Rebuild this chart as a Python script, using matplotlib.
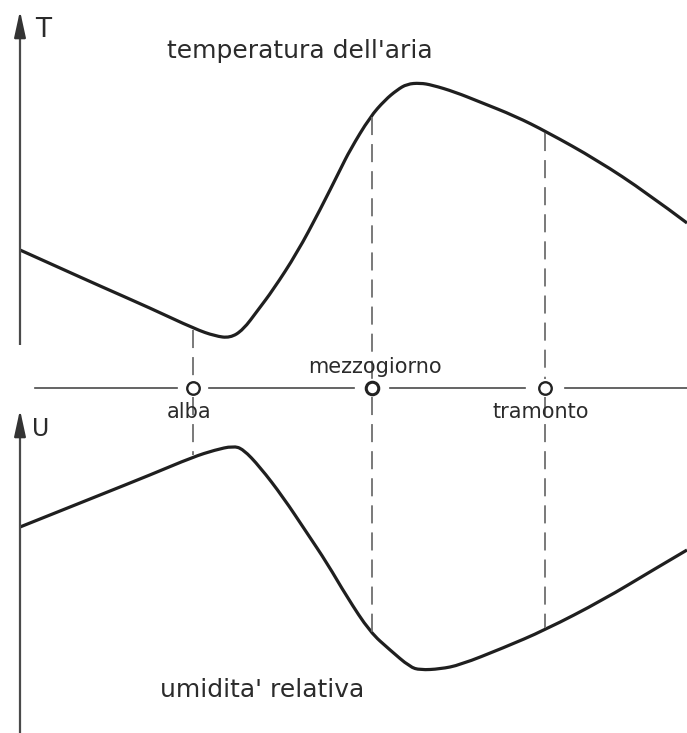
import numpy as np
import matplotlib
matplotlib.use("Agg")
import matplotlib.pyplot as plt
from matplotlib.path import Path
from matplotlib.patches import PathPatch

# curves (x = time across the day, y = drawing units, down is lower value)
temp_x = [20, 60, 100, 150, 195, 215, 230, 243, 258, 273, 297, 320, 340, 350, 370,
          385, 397, 407, 420, 432, 455, 480, 515, 547, 597, 647, 687]
temp_y = [250, 268, 286, 308, 329, 336, 338, 330, 310, 290, 253, 210, 170, 150, 117,
          100, 90, 84, 83, 85, 92, 102, 116, 132, 160, 193, 223]

hum_x = [20, 60, 100, 150, 193, 215, 233, 243, 260, 283, 307, 327, 347, 370, 390,
         410, 420, 440, 460, 503, 545, 603, 653, 687]
hum_y = [527, 511, 495, 475, 457, 450, 446, 449, 467, 497, 533, 563, 597, 632, 650,
         667, 670, 669, 665, 648, 630, 600, 570, 550]

event_x = [193, 372, 545]
event_labels = ["alba", "mezzogiorno", "tramonto"]
label_above = [False, True, False]

title_top = "temperatura dell'aria"
title_bottom = "umidita' relativa"

CURVE = "#1f1f1f"
TEXT = "#2b2b2b"
DASH = "#6e6e6e"
AXIS = "#4a4a4a"

AXIS_Y = 388
AXIS_X = 20


def smooth_path(xs, ys):
    # quadratic bezier through midpoints: each read point acts as a control point
    pts = np.column_stack([xs, ys]).astype(float)
    verts = [pts[0]]
    codes = [Path.MOVETO]
    for i in range(1, len(pts) - 1):
        mid = (pts[i] + pts[i + 1]) / 2
        if i == len(pts) - 2:
            mid = pts[i + 1]
        verts += [pts[i], mid]
        codes += [Path.CURVE3, Path.CURVE3]
    return Path(verts, codes)


def draw_diagram():
    fig = plt.figure(figsize=(6.87, 7.33), dpi=100)
    ax = fig.add_axes([0, 0, 1, 1])
    ax.set_xlim(0, 687)
    ax.set_ylim(733, 0)
    ax.axis("off")

    # vertical axes with arrows
    ax.plot([AXIS_X, AXIS_X], [345, 30], color=AXIS, lw=1.6, solid_capstyle="butt")
    ax.annotate("", xy=(AXIS_X, 8), xytext=(AXIS_X, 40),
                arrowprops=dict(arrowstyle="-|>,head_length=1.6,head_width=0.35",
                                color="#333333", lw=1.6))
    ax.plot([AXIS_X, AXIS_X], [733, 430], color=AXIS, lw=1.6, solid_capstyle="butt")
    ax.annotate("", xy=(AXIS_X, 407), xytext=(AXIS_X, 440),
                arrowprops=dict(arrowstyle="-|>,head_length=1.6,head_width=0.35",
                                color="#333333", lw=1.6))
    ax.text(35, 37, "T", fontsize=19, color=TEXT, ha="left", va="baseline")
    ax.text(32, 436, "U", fontsize=17, color=TEXT, ha="left", va="baseline")

    # time axis broken at the markers
    gaps = [16, 18, 20]
    left = 35
    for x, g in zip(event_x, gaps):
        ax.plot([left, x - g], [AXIS_Y, AXIS_Y], color=AXIS, lw=1.2)
        left = x + g
    ax.plot([left, 687], [AXIS_Y, AXIS_Y], color=AXIS, lw=1.2)

    # dashed guides from curves to the markers
    t_at = np.interp(event_x, temp_x, temp_y)
    h_at = np.interp(event_x, hum_x, hum_y)
    for x, yt, yh in zip(event_x, t_at, h_at):
        ax.plot([x, x], [yt + 2, AXIS_Y - 9], color=DASH, lw=1.3,
                linestyle=(0, (10, 5)))
        ax.plot([x, x], [AXIS_Y + 9, yh - 2], color=DASH, lw=1.3,
                linestyle=(0, (10, 5)))

    # curves
    for xs, ys in [(temp_x, temp_y), (hum_x, hum_y)]:
        ax.add_patch(PathPatch(smooth_path(xs, ys), facecolor="none",
                               edgecolor=CURVE, lw=2.3, joinstyle="round"))

    # markers and labels
    for x, lab, above in zip(event_x, event_labels, label_above):
        mew = 2.2 if above else 1.7
        ax.plot([x], [AXIS_Y], marker="o", ms=9, mfc="white", mec="#222222",
                mew=mew, zorder=5)
        if above:
            ax.text(x + 3, AXIS_Y - 15, lab, fontsize=15, color=TEXT,
                    ha="center", va="baseline")
        else:
            ax.text(x - 4, AXIS_Y + 30, lab, fontsize=15, color=TEXT,
                    ha="center", va="baseline")

    ax.text(300, 58, title_top, fontsize=18, color=TEXT, ha="center", va="baseline")
    ax.text(262, 697, title_bottom, fontsize=18, color=TEXT, ha="center",
            va="baseline")

    fig.savefig("out.png", dpi=100, facecolor="white")


if __name__ == "__main__":
    draw_diagram()
